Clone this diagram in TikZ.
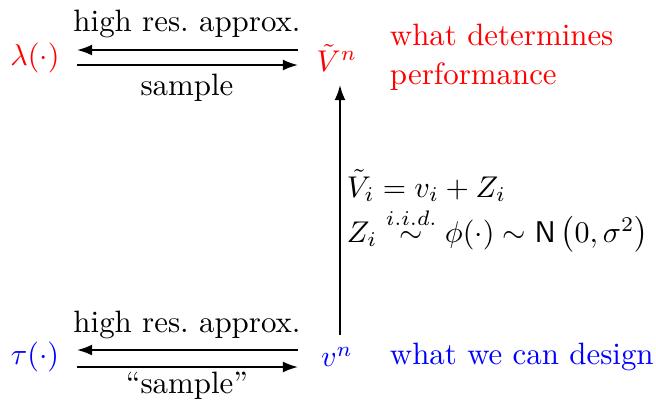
\documentclass[tikz,border=0pt]{standalone}
\usepackage{amsmath}
\usetikzlibrary{arrows.meta}
\definecolor{myred}{RGB}{255,0,0}
\definecolor{myblue}{RGB}{0,0,255}
\begin{document}
\begin{tikzpicture}[x=0.3333pt,y=-0.3333pt,
  every node/.style={inner sep=0pt,outer sep=0pt,font=\fontsize{10.3}{13}\selectfont},
  arr/.style={-{Latex[length=5pt,width=3.6pt]},line width=0.6pt},
  lbl/.style={anchor=center}]
\useasboundingbox (0,0) rectangle (656,407);
% top row
\node[text=myred] (lam) at (35,58) {$\lambda(\cdot)$};
\node[text=myred] (Vt) at (337,58) {$\tilde{V}^n$};
\node[text=myred,anchor=west,align=left] (perf) at (390,57) {what determines\\performance};
% bottom row
\node[text=myblue] (tau) at (35,357) {$\tau(\cdot)$};
\node[text=myblue] (vn) at (337,357) {$v^n$};
\node[text=myblue,anchor=west] (design) at (390,357) {what we can design};
% arrow end points
\coordinate (tR1) at (298,50); \coordinate (tL1) at (77,50);
\coordinate (tL2) at (77,65);  \coordinate (tR2) at (298,65);
\coordinate (bR1) at (298,350); \coordinate (bL1) at (77,350);
\coordinate (bL2) at (77,367);  \coordinate (bR2) at (298,367);
\coordinate (vB) at (340,335); \coordinate (vT) at (340,85);
% top arrows
\draw[arr] (tR1) -- (tL1);
\draw[arr] (tL2) -- (tR2);
\node[lbl] (t1) at (187,24) {high res.\ approx.};
\node[lbl] (t2) at (187,88) {sample};
% bottom arrows
\draw[arr] (bR1) -- (bL1);
\draw[arr] (bL2) -- (bR2);
\node[lbl] (b1) at (187,325) {high res.\ approx.};
\node[lbl] (b2) at (187,386) {``sample''};
% vertical arrow
\draw[arr] (vB) -- (vT);
\node[anchor=west,align=left,font=\fontsize{9.8}{13}\selectfont] (eq) at (347,211) {$\tilde{V}_i = v_i + Z_i$\\[1pt]$Z_i \stackrel{i.i.d.}{\sim} \phi(\cdot) \sim \mathsf{N}\left(0,\sigma^2\right)$};
\end{tikzpicture}
\end{document}
